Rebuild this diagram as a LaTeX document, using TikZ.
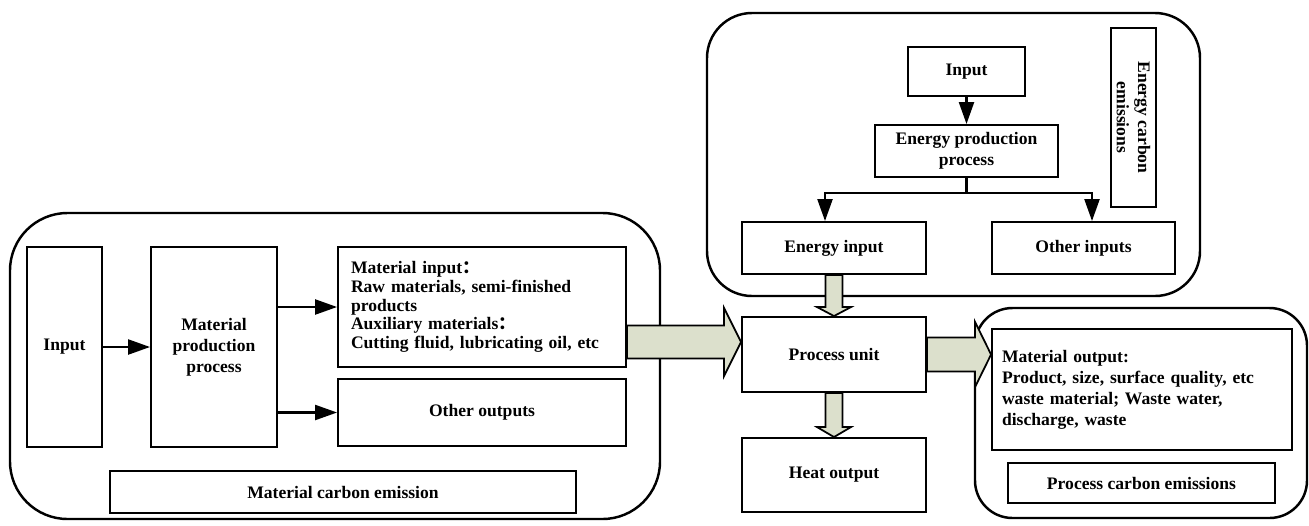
\documentclass[tikz,border=0pt]{standalone}
\usepackage{fontspec}
\setmainfont{Liberation Serif}
\newfontfamily\cjk{Noto Sans CJK SC}
\usetikzlibrary{arrows.meta, calc}
\definecolor{fatgreen}{RGB}{220,224,204}

\begin{document}
\begin{tikzpicture}[x=0.02cm, y=-0.02cm, font=\fontsize{10}{12}\selectfont\bfseries]

        % Setup the styles for the boxes and arrows
        \tikzset{box style/.style={draw,
                                   rectangle,
                                   line width=1.1pt,
                                   inner sep=0pt,
                                   align=center},
                 group style/.style={draw,
                                     line width=1.4pt,
                                     rounded corners=1.15cm},
                 line style/.style={line width=1.3pt,
                                    -{Triangle[length=0.44cm, width=0.3cm]}},
                 fat style/.style={draw,
                                   line width=1pt,
                                   fill=fatgreen}}

        \useasboundingbox (0,0) rectangle (1309,525);

        % Draw the rounded groups
        \draw[group style] (10,213) rectangle (660,519);
        \draw[group style, rounded corners=0.9cm] (707,13) rectangle (1200,296);
        \draw[group style, rounded corners=0.75cm] (975,308) rectangle (1307,518);

        % Draw the material boxes
        \node[box style, minimum width=1.5cm, minimum height=4cm] at (64.5,347) (inL) {Input};
        \node[box style, minimum width=2.52cm, minimum height=4cm] at (214,347) (mpp) {Material\\production\\process};
        \node[box style, minimum width=5.76cm, minimum height=2.4cm,
              text width=5.24cm, inner xsep=0.26cm, align=left,
              font=\fontsize{10}{10.6}\selectfont\bfseries] at (482,307) (matin)
              {Material input{\cjk ：}\\Raw materials, semi-finished\\products\\Auxiliary materials{\cjk ：}\\Cutting fluid, lubricating oil, etc};
        \node[box style, minimum width=5.76cm, minimum height=1.34cm] at (482,412.5) (othout) {Other outputs};
        \node[box style, minimum width=9.32cm, minimum height=0.84cm] at (343,492) (matce) {Material carbon emission};

        % Draw the energy boxes
        \node[box style, minimum width=2.34cm, minimum height=0.98cm] at (966.5,71.5) (inT) {Input};
        \node[box style, minimum width=3.66cm, minimum height=1.04cm] at (966.5,151) (epp) {Energy production\\process};
        \node[box style, minimum width=3.68cm, minimum height=1.04cm] at (834,248) (enin) {Energy input};
        \node[box style, minimum width=3.66cm, minimum height=1.04cm] at (1083.5,248) (othin) {Other inputs};
        \node[box style, rotate=-90, minimum width=3.58cm, minimum height=0.9cm] at (1133.5,117.5) (ece) {Energy carbon\\emissions};

        % Draw the process boxes
        \node[box style, minimum width=3.68cm, minimum height=1.5cm] at (834,354.5) (pu) {Process unit};
        \node[box style, minimum width=3.68cm, minimum height=1.48cm] at (834,475) (heat) {Heat output};
        \node[box style, minimum width=6cm, minimum height=2.42cm,
              text width=5.6cm, inner xsep=0.2cm, align=left] at (1142,389.5) (matout)
              {Material output:\\Product, size, surface quality, etc\\waste material; Waste water,\\discharge, waste};
        \node[box style, minimum width=5.34cm, minimum height=0.8cm] at (1141.5,483) (pce) {Process carbon emissions};

        % Connect the boxes with arrows
        \draw[line style] (inL.east) -- (mpp.west);
        \draw[line style] (mpp.east |- matin.west) -- (matin.west);
        \draw[line style] (mpp.east |- othout.west) -- (othout.west);
        \draw[line style] (inT) -- (epp);
        \draw[line width=1.3pt] (epp.south) -- ++(0,15) coordinate (split);
        \draw[line style] (split) -| ($(enin.north)+(-9,0)$);
        \draw[line style] (split) -| ($(othin.north)+(8.5,0)$);

        % Draw the wide arrows
        \coordinate (tipA) at ($(pu.west)+(0,-12.5)$);
        \draw[fat style] ($(matin.east |- tipA)+(0,-16.5)$) -- ($(tipA)+(-17,-16.5)$) -- ($(tipA)+(-17,-34)$)
              -- (tipA) -- ($(tipA)+(-17,34)$) -- ($(tipA)+(-17,16.5)$) -- ($(matin.east |- tipA)+(0,16.5)$) -- cycle;
        \coordinate (tipB) at (matout.west |- pu.east);
        \draw[fat style] ($(pu.east)+(0,-17)$) -- ($(tipB)+(-16,-17)$) -- ($(tipB)+(-16,-32.5)$)
              -- (tipB) -- ($(tipB)+(-16,32.5)$) -- ($(tipB)+(-16,17)$) -- ($(pu.east)+(0,17)$) -- cycle;
        \draw[fat style] ($(enin.south)+(-8.5,0)$) -- ($(pu.north)+(-8.5,-9)$) -- ($(pu.north)+(-17,-9)$)
              -- (pu.north) -- ($(pu.north)+(17,-9)$) -- ($(pu.north)+(8.5,-9)$) -- ($(enin.south)+(8.5,0)$) -- cycle;
        \draw[fat style] ($(pu.south)+(-8.5,0)$) -- ($(heat.north)+(-8.5,-10)$) -- ($(heat.north)+(-17,-10)$)
              -- (heat.north) -- ($(heat.north)+(17,-10)$) -- ($(heat.north)+(8.5,-10)$) -- ($(pu.south)+(8.5,0)$) -- cycle;
\end{tikzpicture}
\end{document}
